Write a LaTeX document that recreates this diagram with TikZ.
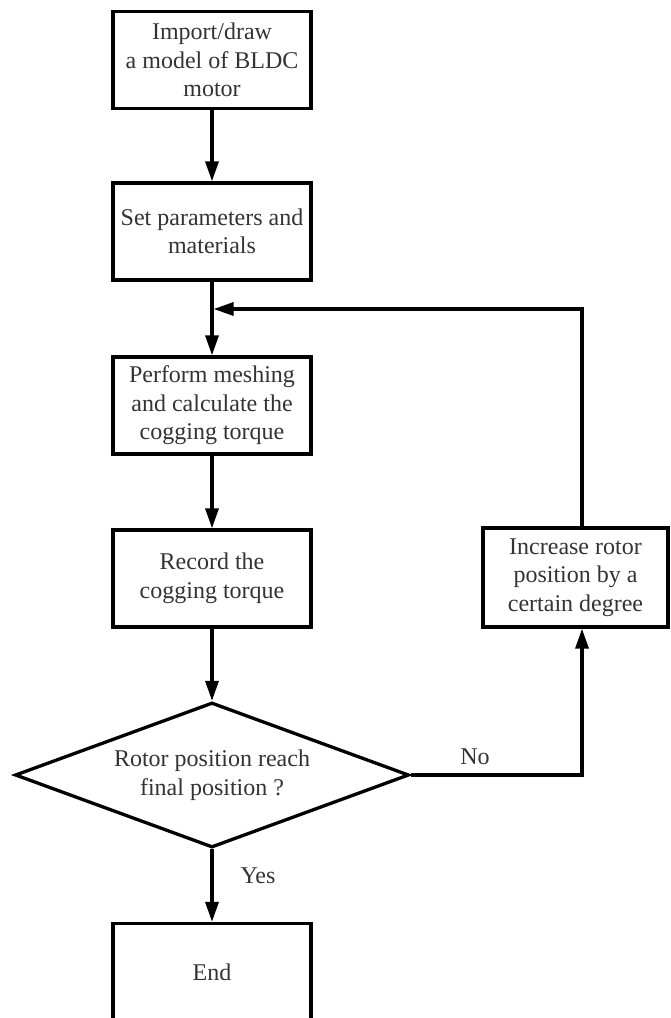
\documentclass[tikz,border=0pt]{standalone}
\usepackage{fontspec}
\setmainfont{Liberation Serif}
\usetikzlibrary{shapes.geometric,arrows.meta}
\begin{document}
\begin{tikzpicture}[x=1pt,y=1pt,
  box/.style={draw,line width=3.3pt,minimum width=198pt,minimum height=97pt,inner sep=0pt,align=center,text=black!80,font=\fontsize{24}{28.5}\selectfont},
  decide/.style={draw,diamond,aspect=2.7,line width=3.3pt,minimum width=394pt,minimum height=145pt,inner sep=0pt,align=center,text=black!80,font=\fontsize{24}{28.5}\selectfont},
  arr/.style={line width=3.3pt,-{Triangle[length=20pt,width=13pt]}},
  lbl/.style={text=black!80,font=\fontsize{24}{28.5}\selectfont}]
\useasboundingbox (0,0) rectangle (670,-1018);
\node[box] (import) at (212,-60) {Import/draw\\a model of BLDC\\motor};
\node[box] (set) at (212,-231.5) {Set parameters and\\materials};
\node[box] (mesh) at (212,-405.5) {Perform meshing\\and calculate the\\cogging torque};
\node[box] (record) at (212,-578.5) {Record the\\cogging torque};
\node[decide] (reach) at (212,-775) {Rotor position reach\\final position ?};
\node[box] (end) at (212,-972) {End};
\node[box,minimum width=185pt,minimum height=99pt] (incr) at (575.5,-577.5) {Increase rotor\\position by a\\certain degree};
\coordinate (loop) at (582,-309);
\coordinate (join) at (213.6,-309);
\draw[arr] (import) -- (set);
\draw[arr] (set) -- (mesh);
\draw[arr] (mesh) -- (record);
\draw[arr] (record) -- (reach);
\draw[arr] (reach) -- (end);
\draw[arr] (reach.east) -| (incr.south -| loop);
\draw[arr] (incr.north -| loop) -- (loop) -- (join);
\node[lbl] at (475,-757) {No};
\node[lbl] at (258,-876) {Yes};
\end{tikzpicture}
\end{document}
